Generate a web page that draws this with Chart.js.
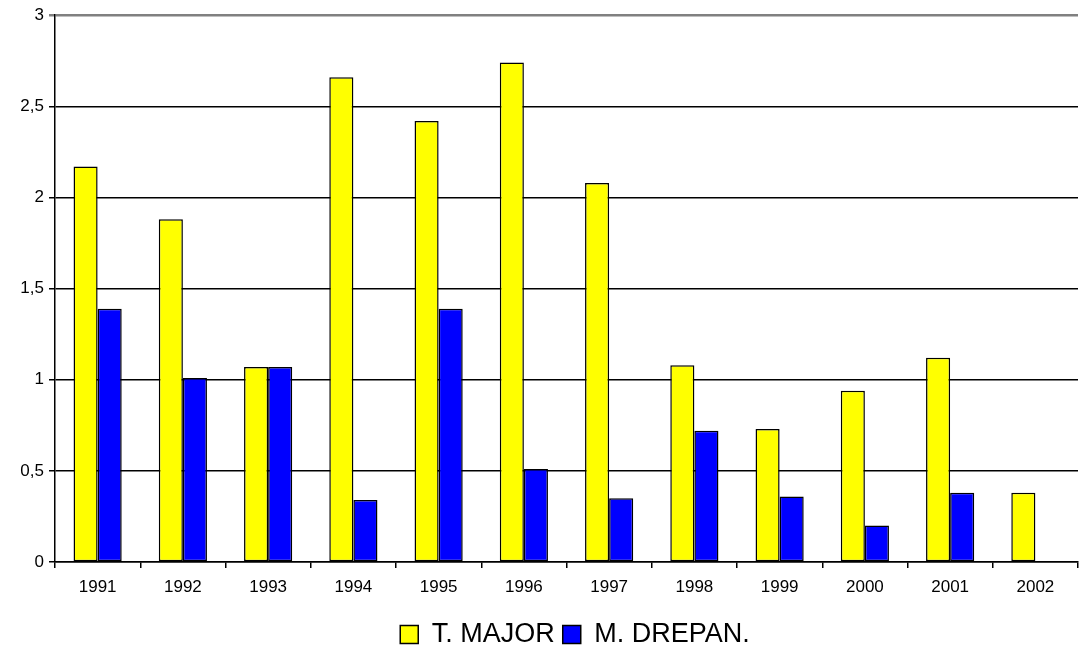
<!DOCTYPE html>
<html>
<head>
<meta charset="utf-8">
<script src="https://cdn.jsdelivr.net/npm/chart.js@4/dist/chart.umd.min.js"></script>
<style>
html,body{margin:0;padding:0;background:#fff;}
#wrap{width:1079px;height:648px;}
</style>
</head>
<body>
<div id="wrap"><canvas id="c" width="1079" height="648"></canvas></div>
<script>
const categories = ['1991','1992','1993','1994','1995','1996','1997','1998','1999','2000','2001','2002'];
const tMajor = [2.17, 1.88, 1.07, 2.66, 2.42, 2.74, 2.08, 1.08, 0.73, 0.94, 1.12, 0.38];
const mDrepan = [1.39, 1.01, 1.07, 0.34, 1.39, 0.51, 0.35, 0.72, 0.36, 0.20, 0.38, null];
const seriesNames = ['T. MAJOR', 'M. DREPAN.'];

Chart.defaults.font.family = '"Liberation Sans", Arial, sans-serif';
Chart.defaults.color = '#000';

const legendShift = {
  id: 'legendShift',
  afterLayout(chart) {
    const l = chart.legend;
    if (!l) return;
    l.left += 36; l.right += 36;
    l.top += 10; l.bottom += 10;
  }
};

new Chart(document.getElementById('c'), {
  type: 'bar',
  data: {
    labels: categories,
    datasets: [
      {label: seriesNames[0], data: tMajor, backgroundColor: '#ffff00', borderColor: '#000', borderWidth: 1.5, borderSkipped: false, categoryPercentage: 0.565, barPercentage: 1},
      {label: seriesNames[1], data: mDrepan, backgroundColor: '#0000ff', borderColor: '#000', borderWidth: 1.5, borderSkipped: false, categoryPercentage: 0.565, barPercentage: 1}
    ]
  },
  plugins: [legendShift],
  options: {
    responsive: false,
    animation: false,
    devicePixelRatio: 1,
    layout: {padding: {top: 14, right: 1, left: 0, bottom: 0}},
    plugins: {
      tooltip: {enabled: false},
      legend: {
        position: 'bottom',
        labels: {
          font: {size: 27},
          boxWidth: 18,
          boxHeight: 18,
          padding: 8,
          color: '#000'
        }
      }
    },
    scales: {
      x: {
        offset: true,
        grid: {display: true, drawOnChartArea: false, offset: true, color: '#000', tickLength: 6, lineWidth: 1.5},
        border: {color: '#000', width: 1.5},
        ticks: {font: {size: 17}, color: '#000', padding: 9, maxRotation: 0},
        afterFit: (s) => { s.height = 41; }
      },
      y: {
        min: 0, max: 3,
        ticks: {stepSize: 0.5, font: {size: 17}, color: '#000', padding: 5,
          callback: (v) => String(v).replace('.', ',')},
        grid: {
          color: (ctx) => ctx.tick && ctx.tick.value === 3 ? '#808080' : '#000',
          lineWidth: (ctx) => ctx.tick && ctx.tick.value === 3 ? 2.5 : 1.5,
          tickLength: 6
        },
        border: {color: '#000', width: 1.5},
        afterFit: (s) => { s.width = 55; }
      }
    }
  }
});
</script>
</body>
</html>
